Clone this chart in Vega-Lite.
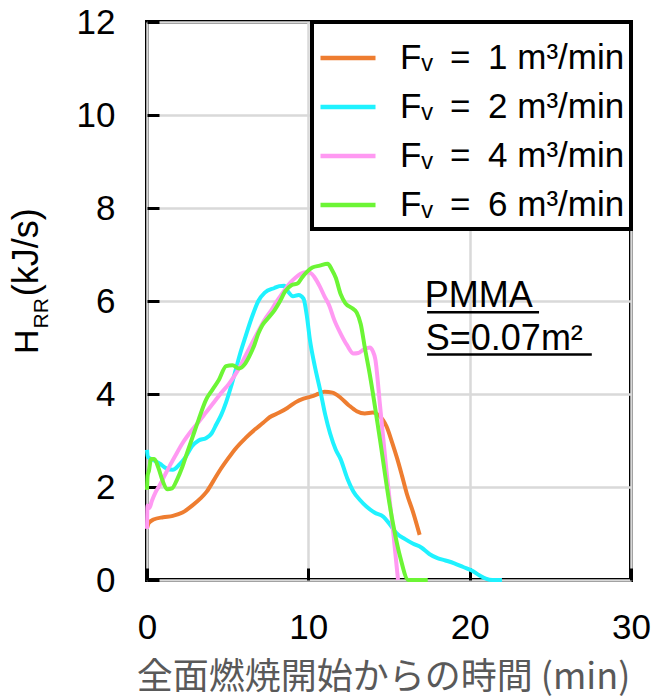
{
  "$schema": "https://vega.github.io/schema/vega-lite/v6.json",
  "autosize": {"type": "none"},
  "padding": {"left": 147, "top": 22, "right": 26, "bottom": 120},
  "width": 484,
  "height": 558,
  "config": {
    "font": "Liberation Sans, Arial, DejaVu Sans, sans-serif",
    "view": {"stroke": "black", "strokeWidth": 4},
    "legend": {"strokeColor": "black", "strokeWidth": 4, "fillColor": "white"},
    "axis": {
      "grid": true, "gridColor": "#d9d9d9", "gridWidth": 2.5,
      "domain": false, "tickColor": "black", "tickWidth": 3, "tickSize": -12,
      "labelFontSize": 35, "labelColor": "black", "labelFlush": false, "labelOverlap": false,
      "labelFont": "Liberation Sans, Arial, sans-serif"
    }
  },
  "data": {
    "values": [
      {"s": 1, "t": 0, "v": 1.11}, {"s": 1, "t": 0.1, "v": 1.22}, {"s": 1, "t": 0.4, "v": 1.3}, {"s": 1, "t": 1.0, "v": 1.35},
      {"s": 1, "t": 1.6, "v": 1.38}, {"s": 1, "t": 2.2, "v": 1.45}, {"s": 1, "t": 2.8, "v": 1.6}, {"s": 1, "t": 3.3, "v": 1.75},
      {"s": 1, "t": 3.7, "v": 1.9}, {"s": 1, "t": 4.1, "v": 2.12}, {"s": 1, "t": 4.5, "v": 2.35}, {"s": 1, "t": 5.0, "v": 2.6},
      {"s": 1, "t": 5.5, "v": 2.83}, {"s": 1, "t": 6.1, "v": 3.05}, {"s": 1, "t": 6.7, "v": 3.24}, {"s": 1, "t": 7.2, "v": 3.38},
      {"s": 1, "t": 7.6, "v": 3.5}, {"s": 1, "t": 8.2, "v": 3.6}, {"s": 1, "t": 8.7, "v": 3.7}, {"s": 1, "t": 9.2, "v": 3.82},
      {"s": 1, "t": 9.7, "v": 3.9}, {"s": 1, "t": 10.2, "v": 3.95}, {"s": 1, "t": 10.6, "v": 4.0}, {"s": 1, "t": 11.0, "v": 4.05},
      {"s": 1, "t": 11.5, "v": 4.03}, {"s": 1, "t": 12.0, "v": 3.92}, {"s": 1, "t": 12.5, "v": 3.76}, {"s": 1, "t": 13.0, "v": 3.63},
      {"s": 1, "t": 13.5, "v": 3.58}, {"s": 1, "t": 14.0, "v": 3.6}, {"s": 1, "t": 14.35, "v": 3.55}, {"s": 1, "t": 14.85, "v": 3.3},
      {"s": 1, "t": 15.2, "v": 2.95}, {"s": 1, "t": 15.5, "v": 2.62}, {"s": 1, "t": 15.8, "v": 2.25}, {"s": 1, "t": 16.1, "v": 1.86},
      {"s": 1, "t": 16.5, "v": 1.45}, {"s": 1, "t": 16.9, "v": 0.97},

      {"s": 2, "t": 0, "v": 2.8}, {"s": 2, "t": 0.05, "v": 2.65}, {"s": 2, "t": 0.4, "v": 2.58}, {"s": 2, "t": 0.8, "v": 2.5},
      {"s": 2, "t": 1.2, "v": 2.4}, {"s": 2, "t": 1.6, "v": 2.37}, {"s": 2, "t": 2.0, "v": 2.48}, {"s": 2, "t": 2.4, "v": 2.65},
      {"s": 2, "t": 2.8, "v": 2.88}, {"s": 2, "t": 3.2, "v": 3.0}, {"s": 2, "t": 3.65, "v": 3.05}, {"s": 2, "t": 4.0, "v": 3.15},
      {"s": 2, "t": 4.3, "v": 3.35}, {"s": 2, "t": 4.6, "v": 3.55}, {"s": 2, "t": 4.9, "v": 3.82}, {"s": 2, "t": 5.2, "v": 4.15},
      {"s": 2, "t": 5.5, "v": 4.52}, {"s": 2, "t": 5.8, "v": 4.9}, {"s": 2, "t": 6.1, "v": 5.23}, {"s": 2, "t": 6.5, "v": 5.65},
      {"s": 2, "t": 6.9, "v": 6.0}, {"s": 2, "t": 7.3, "v": 6.18}, {"s": 2, "t": 7.9, "v": 6.28}, {"s": 2, "t": 8.2, "v": 6.32},
      {"s": 2, "t": 8.5, "v": 6.33}, {"s": 2, "t": 8.75, "v": 6.2}, {"s": 2, "t": 9.05, "v": 6.1}, {"s": 2, "t": 9.4, "v": 6.13},
      {"s": 2, "t": 9.7, "v": 6.05}, {"s": 2, "t": 9.9, "v": 5.7}, {"s": 2, "t": 10.1, "v": 5.16}, {"s": 2, "t": 10.4, "v": 4.6},
      {"s": 2, "t": 10.73, "v": 4.09}, {"s": 2, "t": 11.05, "v": 3.55}, {"s": 2, "t": 11.35, "v": 3.15}, {"s": 2, "t": 11.7, "v": 2.8},
      {"s": 2, "t": 12.0, "v": 2.6}, {"s": 2, "t": 12.4, "v": 2.2}, {"s": 2, "t": 12.8, "v": 1.9}, {"s": 2, "t": 13.2, "v": 1.72},
      {"s": 2, "t": 13.6, "v": 1.58}, {"s": 2, "t": 14.1, "v": 1.45}, {"s": 2, "t": 14.65, "v": 1.36}, {"s": 2, "t": 15.0, "v": 1.22},
      {"s": 2, "t": 15.48, "v": 1.0}, {"s": 2, "t": 16.0, "v": 0.88}, {"s": 2, "t": 16.5, "v": 0.78}, {"s": 2, "t": 17.0, "v": 0.7},
      {"s": 2, "t": 17.5, "v": 0.56}, {"s": 2, "t": 18.0, "v": 0.47}, {"s": 2, "t": 18.5, "v": 0.42}, {"s": 2, "t": 19.05, "v": 0.36},
      {"s": 2, "t": 19.6, "v": 0.28}, {"s": 2, "t": 20.1, "v": 0.21}, {"s": 2, "t": 20.6, "v": 0.1}, {"s": 2, "t": 21.0, "v": 0.03},
      {"s": 2, "t": 21.4, "v": 0}, {"s": 2, "t": 22.0, "v": 0},

      {"s": 4, "t": 0, "v": 1.1}, {"s": 4, "t": 0.03, "v": 1.6}, {"s": 4, "t": 0.15, "v": 1.55}, {"s": 4, "t": 0.3, "v": 1.7},
      {"s": 4, "t": 0.55, "v": 1.9}, {"s": 4, "t": 0.8, "v": 2.05}, {"s": 4, "t": 1.1, "v": 2.25}, {"s": 4, "t": 1.4, "v": 2.45},
      {"s": 4, "t": 1.8, "v": 2.7}, {"s": 4, "t": 2.2, "v": 2.94}, {"s": 4, "t": 2.8, "v": 3.23}, {"s": 4, "t": 3.2, "v": 3.4},
      {"s": 4, "t": 3.65, "v": 3.6}, {"s": 4, "t": 4.1, "v": 3.8}, {"s": 4, "t": 4.5, "v": 3.98}, {"s": 4, "t": 5.1, "v": 4.23},
      {"s": 4, "t": 5.7, "v": 4.55}, {"s": 4, "t": 6.1, "v": 4.82}, {"s": 4, "t": 6.5, "v": 5.09}, {"s": 4, "t": 6.9, "v": 5.35},
      {"s": 4, "t": 7.3, "v": 5.6}, {"s": 4, "t": 7.7, "v": 5.8}, {"s": 4, "t": 8.0, "v": 5.97}, {"s": 4, "t": 8.3, "v": 6.12},
      {"s": 4, "t": 8.6, "v": 6.27}, {"s": 4, "t": 8.9, "v": 6.4}, {"s": 4, "t": 9.2, "v": 6.5}, {"s": 4, "t": 9.5, "v": 6.58},
      {"s": 4, "t": 9.8, "v": 6.62}, {"s": 4, "t": 10.15, "v": 6.6}, {"s": 4, "t": 10.4, "v": 6.5}, {"s": 4, "t": 10.7, "v": 6.32},
      {"s": 4, "t": 11.0, "v": 6.1}, {"s": 4, "t": 11.3, "v": 5.9}, {"s": 4, "t": 11.6, "v": 5.6}, {"s": 4, "t": 12.0, "v": 5.3},
      {"s": 4, "t": 12.4, "v": 5.05}, {"s": 4, "t": 12.8, "v": 4.87}, {"s": 4, "t": 13.1, "v": 4.88}, {"s": 4, "t": 13.4, "v": 4.95},
      {"s": 4, "t": 13.8, "v": 5.0}, {"s": 4, "t": 14.0, "v": 4.92}, {"s": 4, "t": 14.15, "v": 4.75}, {"s": 4, "t": 14.45, "v": 3.73},
      {"s": 4, "t": 14.86, "v": 2.29}, {"s": 4, "t": 15.27, "v": 1.0}, {"s": 4, "t": 15.56, "v": 0},

      {"s": 6, "t": 0, "v": 1.94}, {"s": 6, "t": 0.04, "v": 2.25}, {"s": 6, "t": 0.12, "v": 2.35}, {"s": 6, "t": 0.25, "v": 2.6},
      {"s": 6, "t": 0.45, "v": 2.6}, {"s": 6, "t": 0.7, "v": 2.42}, {"s": 6, "t": 0.95, "v": 2.15}, {"s": 6, "t": 1.25, "v": 1.95},
      {"s": 6, "t": 1.55, "v": 1.97}, {"s": 6, "t": 1.85, "v": 2.15}, {"s": 6, "t": 2.2, "v": 2.44}, {"s": 6, "t": 2.5, "v": 2.75},
      {"s": 6, "t": 2.83, "v": 3.08}, {"s": 6, "t": 3.2, "v": 3.45}, {"s": 6, "t": 3.65, "v": 3.87}, {"s": 6, "t": 4.05, "v": 4.09},
      {"s": 6, "t": 4.45, "v": 4.3}, {"s": 6, "t": 4.9, "v": 4.6}, {"s": 6, "t": 5.3, "v": 4.62}, {"s": 6, "t": 5.7, "v": 4.55},
      {"s": 6, "t": 6.1, "v": 4.66}, {"s": 6, "t": 6.4, "v": 4.85}, {"s": 6, "t": 6.65, "v": 5.05}, {"s": 6, "t": 6.9, "v": 5.3},
      {"s": 6, "t": 7.15, "v": 5.48}, {"s": 6, "t": 7.5, "v": 5.63}, {"s": 6, "t": 7.9, "v": 5.8}, {"s": 6, "t": 8.25, "v": 6.0},
      {"s": 6, "t": 8.55, "v": 6.2}, {"s": 6, "t": 8.95, "v": 6.34}, {"s": 6, "t": 9.35, "v": 6.38}, {"s": 6, "t": 9.6, "v": 6.5},
      {"s": 6, "t": 9.9, "v": 6.62}, {"s": 6, "t": 10.25, "v": 6.72}, {"s": 6, "t": 10.7, "v": 6.76}, {"s": 6, "t": 11.2, "v": 6.8},
      {"s": 6, "t": 11.45, "v": 6.68}, {"s": 6, "t": 11.7, "v": 6.5}, {"s": 6, "t": 12.0, "v": 6.15}, {"s": 6, "t": 12.3, "v": 5.95},
      {"s": 6, "t": 12.7, "v": 5.85}, {"s": 6, "t": 13.0, "v": 5.75}, {"s": 6, "t": 13.25, "v": 5.5}, {"s": 6, "t": 13.5, "v": 5.0},
      {"s": 6, "t": 13.8, "v": 4.44}, {"s": 6, "t": 14.45, "v": 3.0}, {"s": 6, "t": 15.06, "v": 1.58}, {"s": 6, "t": 15.69, "v": 0.5},
      {"s": 6, "t": 16.2, "v": 0}, {"s": 6, "t": 17.4, "v": 0}
    ]
  },
  "layer": [
    {
      "mark": {"type": "line", "strokeWidth": 4, "interpolate": "monotone"},
      "encoding": {
        "x": {"field": "t", "type": "quantitative", "scale": {"domain": [0, 30], "nice": false},
              "axis": {"values": [0, 10, 20, 30], "labelPadding": 42,
                       "title": "全面燃焼開始からの時間 (min)", "titleFont": "Noto Sans CJK JP", "titleFontSize": 36,
                       "titleColor": "#595959", "titleFontWeight": "normal", "titleY": 108, "titleX": 236,
                       "titleBaseline": "alphabetic", "titleAlign": "center"}},
        "y": {"field": "v", "type": "quantitative", "scale": {"domain": [0, 12], "nice": false},
              "axis": {"values": [0, 2, 4, 6, 8, 10, 12], "labelPadding": 44, "title": null}},
        "color": {"field": "s", "type": "nominal",
                  "scale": {"domain": [1, 2, 4, 6], "range": ["#EE7D30", "#1FF2FF", "#FF99F2", "#6CF535"]},
                  "legend": {"title": null, "orient": "top-right", "offset": 0, "padding": 6,
                             "strokeColor": "black", "fillColor": "white",
                             "symbolType": "stroke", "symbolSize": 3025, "symbolStrokeWidth": 4.5,
                             "labelFontSize": 35, "labelColor": "black", "labelOffset": 22, "rowPadding": 1,
                             "labelLimit": 400,
                             "labelFont": "Liberation Sans, Arial, DejaVu Sans, sans-serif",
                             "labelExpr": "'Fᵥ\u2002=\u2002' + datum.label + ' m³/min'"}}
      }
    },
    {
      "data": {"values": [{}]},
      "mark": {"type": "text", "text": "H", "angle": 270, "align": "left", "baseline": "alphabetic", "fontSize": 34, "color": "black"},
      "encoding": {"x": {"datum": -6.76, "type": "quantitative", "scale": {"domain": [0, 30], "nice": false}},
                   "y": {"datum": 4.86, "type": "quantitative", "scale": {"domain": [0, 12], "nice": false}}}
    },
    {
      "data": {"values": [{}]},
      "mark": {"type": "text", "text": "RR", "angle": 270, "align": "left", "baseline": "alphabetic", "fontSize": 21, "color": "black"},
      "encoding": {"x": {"datum": -6.12, "type": "quantitative", "scale": {"domain": [0, 30], "nice": false}},
                   "y": {"datum": 5.41, "type": "quantitative", "scale": {"domain": [0, 12], "nice": false}}}
    },
    {
      "data": {"values": [{}]},
      "mark": {"type": "text", "text": "(kJ/s)", "angle": 270, "align": "left", "baseline": "alphabetic", "fontSize": 36, "color": "black"},
      "encoding": {"x": {"datum": -6.76, "type": "quantitative", "scale": {"domain": [0, 30], "nice": false}},
                   "y": {"datum": 6.1, "type": "quantitative", "scale": {"domain": [0, 12], "nice": false}}}
    },
    {
      "data": {"values": [{}]},
      "mark": {"type": "text", "text": "PMMA", "align": "left", "baseline": "alphabetic", "fontSize": 36, "color": "black"},
      "encoding": {"x": {"datum": 17.22, "type": "quantitative", "scale": {"domain": [0, 30], "nice": false}},
                   "y": {"datum": 5.87, "type": "quantitative", "scale": {"domain": [0, 12], "nice": false}}}
    },
    {
      "data": {"values": [{}]},
      "mark": {"type": "text", "text": "S=0.07m²", "align": "left", "baseline": "alphabetic", "fontSize": 36, "color": "black"},
      "encoding": {"x": {"datum": 17.28, "type": "quantitative", "scale": {"domain": [0, 30], "nice": false}},
                   "y": {"datum": 4.95, "type": "quantitative", "scale": {"domain": [0, 12], "nice": false}}}
    },
    {
      "data": {"values": [{}]},
      "mark": {"type": "rule", "strokeWidth": 2.5, "color": "black"},
      "encoding": {"x": {"datum": 17.36, "type": "quantitative", "scale": {"domain": [0, 30], "nice": false}},
                   "x2": {"datum": 24.3},
                   "y": {"datum": 5.76, "type": "quantitative", "scale": {"domain": [0, 12], "nice": false}}}
    },
    {
      "data": {"values": [{}]},
      "mark": {"type": "rule", "strokeWidth": 2.5, "color": "black"},
      "encoding": {"x": {"datum": 17.36, "type": "quantitative", "scale": {"domain": [0, 30], "nice": false}},
                   "x2": {"datum": 27.57},
                   "y": {"datum": 4.85, "type": "quantitative", "scale": {"domain": [0, 12], "nice": false}}}
    }
  ]
}
